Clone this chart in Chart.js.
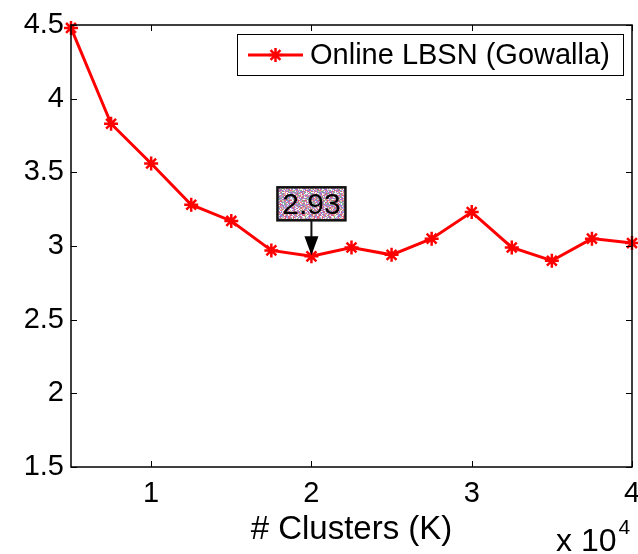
<!DOCTYPE html>
<html>
<head>
<meta charset="utf-8">
<script src="https://cdn.jsdelivr.net/npm/chart.js@4/dist/chart.umd.min.js"></script>
<style>
    html, body { margin: 0; padding: 0; background: #fff; }
    #wrap { width: 638px; height: 554px; position: relative; }
</style>
</head>
<body>
<div id="wrap"><canvas id="chart"></canvas></div>
<script>
// number of clusters K and the measured value for each
const clusters = [5000, 7500, 10000, 12500, 15000, 17500, 20000, 22500, 25000, 27500, 30000, 32500, 35000, 37500, 40000];
const gowalla = [4.48, 3.83, 3.56, 3.28, 3.17, 2.97, 2.93, 2.99, 2.94, 3.05, 3.23, 2.99, 2.90, 3.05, 3.02];
const xTicks = [10000, 20000, 30000, 40000];
const yTicks = [1.5, 2, 2.5, 3, 3.5, 4, 4.5];
const seriesLabel = 'Online LBSN (Gowalla)';
const markedIndex = 6; // the point with the data tip

const FONT = '"Liberation Sans", Arial, Helvetica, sans-serif';

// speckled fill for the data tip box (deterministic)
function speckle() {
    const c = document.createElement('canvas');
    c.width = 29; c.height = 31;
    const g = c.getContext('2d');
    const cols = ['#e8708e', '#8a86e6', '#f4f0f2', '#c79bc4', '#7fae86', '#e6c2a6', '#a868c8', '#ffffff', '#d85a78', '#9fb0e8'];
    for (let y = 0; y < 31; y++) {
        for (let x = 0; x < 29; x++) {
            const h = (((x + 3) * 2654435761) ^ ((y + 7) * 40503) ^ ((x * 31 + y) * 97)) >>> 0;
            g.fillStyle = cols[(h >>> 5) % cols.length];
            g.fillRect(x, y, 1, 1);
        }
    }
    return c;
}

const matlabFrame = {
    id: 'matlabFrame',
    afterDatasetsDraw(chart) {
        const { ctx, chartArea: a, scales } = chart;
        const xs = scales.x, ys = scales.y;
        ctx.save();

        // box + inward ticks
        ctx.strokeStyle = '#000';
        ctx.lineWidth = 1.5;
        ctx.strokeRect(a.left, a.top, a.right - a.left, a.bottom - a.top);
        ctx.lineWidth = 1;
        ctx.beginPath();
        xTicks.forEach(v => {
            const px = Math.round(xs.getPixelForValue(v)) + 0.5;
            ctx.moveTo(px, a.bottom); ctx.lineTo(px, a.bottom - 6);
            ctx.moveTo(px, a.top); ctx.lineTo(px, a.top + 6);
        });
        yTicks.forEach(v => {
            const py = Math.round(ys.getPixelForValue(v)) + 0.5;
            ctx.moveTo(a.left, py); ctx.lineTo(a.left + 6, py);
            ctx.moveTo(a.right, py); ctx.lineTo(a.right - 6, py);
        });
        ctx.stroke();

        // data tip on the marked point
        const px = xs.getPixelForValue(clusters[markedIndex]);
        const py = ys.getPixelForValue(gowalla[markedIndex]);
        const bw = 68, bh = 33;
        const bx = px - bw / 2, by = py - 69;
        ctx.fillStyle = ctx.createPattern(speckle(), 'repeat');
        ctx.fillRect(bx, by, bw, bh);
        ctx.lineWidth = 2.5;
        ctx.strokeStyle = '#111';
        ctx.strokeRect(bx, by, bw, bh);
        ctx.fillStyle = '#000';
        ctx.font = '30px ' + FONT;
        ctx.textAlign = 'center';
        ctx.textBaseline = 'middle';
        ctx.fillText(gowalla[markedIndex].toFixed(2), px, by + bh / 2 + 2);
        // arrow
        ctx.lineWidth = 2;
        ctx.beginPath();
        ctx.moveTo(px, by + bh);
        ctx.lineTo(px, py - 14);
        ctx.stroke();
        ctx.beginPath();
        ctx.moveTo(px - 7, py - 20);
        ctx.lineTo(px + 7, py - 20);
        ctx.lineTo(px, py - 1);
        ctx.closePath();
        ctx.fill();

        // legend
        const lx = 237, ly = 34, lw = 386, lh = 41;
        ctx.fillStyle = '#fff';
        ctx.fillRect(lx, ly, lw, lh);
        ctx.strokeStyle = '#000';
        ctx.lineWidth = 1;
        ctx.strokeRect(lx + 0.5, ly + 0.5, lw, lh);
        const my = ly + lh / 2 + 0.5;
        ctx.strokeStyle = '#ff0000';
        ctx.lineWidth = 3;
        ctx.beginPath();
        ctx.moveTo(248, my); ctx.lineTo(303, my);
        ctx.stroke();
        ctx.lineWidth = 2.5;
        ctx.beginPath();
        for (let k = 0; k < 4; k++) {
            const ang = k * Math.PI / 4;
            ctx.moveTo(275.5 - 7 * Math.cos(ang), my - 7 * Math.sin(ang));
            ctx.lineTo(275.5 + 7 * Math.cos(ang), my + 7 * Math.sin(ang));
        }
        ctx.stroke();
        ctx.fillStyle = '#000';
        ctx.font = '29px ' + FONT;
        ctx.textAlign = 'left';
        ctx.textBaseline = 'middle';
        ctx.fillText(seriesLabel, 310, my + 1);

        // exponent label
        ctx.font = '32px ' + FONT;
        ctx.textBaseline = 'alphabetic';
        ctx.fillText('x 10', 556, 551);
        const w = ctx.measureText('x 10').width;
        ctx.font = '21px ' + FONT;
        ctx.fillText('4', 556 + w + 2, 534);
        ctx.restore();
    }
};

new Chart(document.getElementById('chart'), {
    type: 'line',
    data: {
        datasets: [{
            label: seriesLabel,
            data: clusters.map((k, i) => ({ x: k, y: gowalla[i] })),
            borderColor: '#ff0000',
            backgroundColor: '#ff0000',
            borderWidth: 3,
            pointStyle: 'star',
            pointRadius: 7,
            pointBorderWidth: 2.5,
            pointBorderColor: '#ff0000',
            tension: 0,
            clip: false
        }]
    },
    options: {
        responsive: true,
        maintainAspectRatio: false,
        animation: false,
        events: [],
        layout: { autoPadding: false, padding: { top: 25, right: 6, left: 0, bottom: 0 } },
        plugins: {
            legend: { display: false },
            tooltip: { enabled: false }
        },
        scales: {
            x: {
                type: 'linear',
                min: 5000,
                max: 40000,
                afterBuildTicks: s => { s.ticks = xTicks.map(v => ({ value: v })); },
                afterFit: s => { s.height = 87; s.paddingLeft = 0; s.paddingRight = 0; },
                grid: { display: false, drawTicks: false },
                border: { display: false },
                ticks: {
                    color: '#000',
                    font: { family: FONT, size: 29 },
                    padding: 10,
                    maxRotation: 0,
                    callback: v => String(v / 10000)
                },
                title: {
                    display: true,
                    text: '# Clusters (K)',
                    color: '#000',
                    font: { family: FONT, size: 33 },
                    padding: { top: 0, bottom: 4 }
                }
            },
            y: {
                min: 1.5,
                max: 4.5,
                afterBuildTicks: s => { s.ticks = yTicks.map(v => ({ value: v })); },
                afterFit: s => { s.width = 71; s.paddingTop = 0; s.paddingBottom = 0; },
                grid: { display: false, drawTicks: false },
                border: { display: false },
                ticks: {
                    color: '#000',
                    font: { family: FONT, size: 29 },
                    padding: 7,
                    callback: v => String(v)
                }
            }
        }
    },
    plugins: [matlabFrame]
});
</script>
</body>
</html>
